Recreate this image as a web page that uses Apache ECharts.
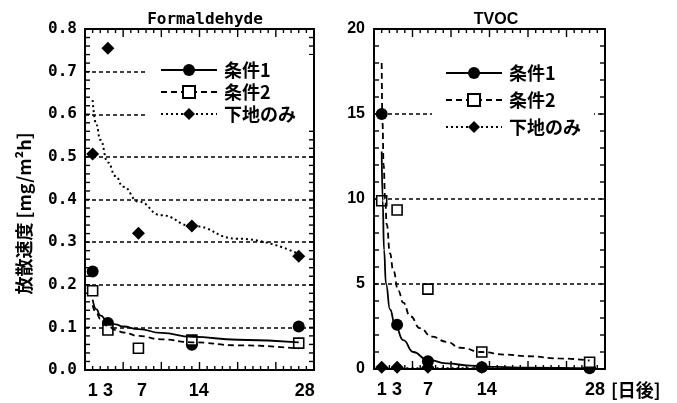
<!DOCTYPE html>
<html><head><meta charset="utf-8">
<script src="https://cdn.jsdelivr.net/npm/echarts@6/dist/echarts.min.js"></script>
<style>html,body{margin:0;padding:0;background:#fff}#c{width:677px;height:403px}</style>
</head><body><div id="c"></div>
<script>
// ---- data ----
const days = [1, 3, 7, 14, 28];
const xTickLabels = [1, 3, 7, 14, 28];
const seriesNames = ['条件1', '条件2', '下地のみ'];

const hchoCond1 = [0.231, 0.11, null, 0.059, 0.102];
const hchoCond2 = [0.186, 0.094, 0.051, 0.070, 0.063];
const hchoBase  = [0.507, 0.755, 0.321, 0.338, 0.267];

const tvocCond1 = [15.0, 2.6, 0.45, 0.1, 0.05];
const tvocCond2 = [9.9, 9.35, 4.7, 1.0, 0.4];
const tvocBase  = [0.1, 0.1, 0.1, 0.1, 0.1];

// fitted curves
const hchoFitDays  = [1, 1.5, 2, 3, 4, 5, 7, 10, 14, 20, 28];
const hchoFit1     = [0.165, 0.142, 0.128, 0.114, 0.107, 0.102, 0.096, 0.087, 0.078, 0.071, 0.065];
const hchoFit2     = [0.152, 0.133, 0.12, 0.103, 0.094, 0.088, 0.08, 0.072, 0.065, 0.058, 0.05];
const hchoFitBase  = [0.633, 0.575, 0.54, 0.487, 0.455, 0.43, 0.395, 0.363, 0.338, 0.308, 0.272];

const tvocFit1Days = [1, 1.13, 1.3, 1.56, 2.08, 2.73, 3.8, 5.1, 6.84, 9.44, 12.5, 16, 20, 28];
const tvocFit1     = [12.8, 9.9, 7.0, 5.0, 3.5, 2.6, 1.7, 1.0, 0.57, 0.33, 0.2, 0.12, 0.08, 0.04];
const tvocFit2Days = [1, 1.1, 1.25, 1.45, 1.65, 2.08, 2.5, 3.16, 3.8, 4.7, 6.0, 7.5, 9.44, 11.2, 14, 17, 20, 24, 28];
const tvocFit2     = [18, 14.5, 12, 10, 8.5, 6.8, 5.8, 4.6, 3.9, 3.1, 2.4, 1.9, 1.6, 1.25, 1.0, 0.85, 0.75, 0.62, 0.5];
const tvocFitBaseDays = [1, 28];
const tvocFitBase     = [0.05, 0.02];

// ---- helpers ----
const zip = (xs, ys) => xs.map((x, i) => [x, ys[i]]);
const BLACK = '#000';
const CJK = 'Noto Sans CJK JP';

function xLabelRich(pads) {
  const rich = {};
  xTickLabels.forEach(v => { rich['p' + v] = { padding: [0, 0, 0, pads[v] || 0] }; });
  return rich;
}

function axisBase(g, min, max, interval, pos) {
  return {
    gridIndex: g, type: 'value', min: min, max: max, interval: interval, position: pos,
    axisLine: { show: true, onZero: false, lineStyle: { color: BLACK, width: 2 } },
    axisTick: { show: false },
    minorTick: { show: false },
    splitLine: { show: false },
    axisLabel: { show: false }
  };
}

function xAxes(g, pads, name) {
  const bottom = axisBase(g, 0, 30, 5, 'bottom');
  bottom.axisLabel = {
    show: true, customValues: xTickLabels, margin: 12, color: BLACK,
    fontFamily: 'Liberation Sans', fontWeight: 'bold', fontSize: 18,
    formatter: v => '{p' + v + '|' + v + '}', rich: xLabelRich(pads)
  };
  if (name) {
    bottom.name = name;
    bottom.nameLocation = 'end';
    bottom.nameGap = 2;
    bottom.nameTextStyle = { fontFamily: CJK, fontWeight: 'bold', fontSize: 18, color: BLACK,
      verticalAlign: 'top', padding: [12, 0, 0, 0] };
  }
  const top = axisBase(g, 0, 30, 5, 'top');
  return [bottom, top];
}

function yAxes(g, max, interval, fmt, font, margin, withName) {
  const left = axisBase(g, 0, max, interval, 'left');
  left.axisLabel = { show: true, formatter: fmt, color: BLACK, fontFamily: font, fontWeight: 'bold', fontSize: 16, margin: margin };
  left.splitLine = { show: true, lineStyle: { color: BLACK, width: 1.5, type: [4, 3] } };
  if (withName) {
    left.name = '放散速度 [mg/m²h]';
    left.nameLocation = 'middle';
    left.nameGap = 52;
    left.nameTextStyle = { fontFamily: CJK, fontWeight: 'bold', fontSize: 18, color: BLACK, padding: [0, 28, 0, 0] };
  }
  const right = axisBase(g, 0, max, interval, 'right');
  return [left, right];
}

const styles = {
  '条件1':   { symbol: 'circle', item: { color: BLACK, opacity: 1 }, line: { color: BLACK, width: 1.8, type: 'solid' } },
  '条件2':   { symbol: 'rect', item: { color: '#fff', borderColor: BLACK, borderWidth: 1.6, opacity: 1 }, line: { color: BLACK, width: 1.8, type: [6, 4] } },
  '下地のみ': { symbol: 'diamond', item: { color: BLACK, opacity: 1 }, line: { color: BLACK, width: 2, type: [2, 3] } }
};
const symSize = { '条件1': 12, '条件2': 10, '下地のみ': 13 };

function curve(name, g, xs, ys) {
  const s = styles[name];
  return {
    name: name, type: 'line', xAxisIndex: g * 2, yAxisIndex: g * 2,
    data: zip(xs, ys), symbol: s.symbol, showSymbol: false, symbolSize: 12,
    smooth: 0.5, smoothMonotone: 'x',
    itemStyle: s.item, lineStyle: s.line
  };
}
function points(name, g, ys) {
  const s = styles[name];
  return {
    name: name + '_pts', type: 'scatter', xAxisIndex: g * 2, yAxisIndex: g * 2,
    data: zip(days, ys).filter(p => p[1] !== null), symbol: s.symbol, symbolSize: symSize[name],
    itemStyle: s.item
  };
}

function legend(left, top, gap, padR) {
  return {
    orient: 'vertical', left: left, top: top, data: seriesNames,
    itemWidth: 56, itemHeight: 15, itemGap: gap,
    padding: [6, padR, 6, 13], backgroundColor: '#fff',
    selectedMode: false,
    textStyle: { fontFamily: CJK, fontWeight: 'bold', fontSize: 18, color: BLACK, padding: [0, 0, 0, 2] }
  };
}

const option = {
  animation: false,
  title: [
    { text: 'Formaldehyde', left: 200, top: 7, textAlign: 'center',
      textStyle: { fontFamily: 'DejaVu Sans Mono', fontWeight: 'bold', fontSize: 16, color: BLACK } },
    { text: 'TVOC', left: 491, top: 7, textAlign: 'center',
      textStyle: { fontFamily: 'Liberation Sans', fontWeight: 'bold', fontSize: 16, color: BLACK } }
  ],
  grid: [
    { left: 85, right: 363, top: 29, bottom: 33 },
    { left: 374, right: 72, top: 29, bottom: 34 }
  ],
  legend: [ legend(147, 55, 4, 17), legend(432, 58, 9, 13) ],
  xAxis: [].concat(
    xAxes(0, { 7: 7, 14: 14, 28: 12 }, null),
    xAxes(1, { 14: 10, 28: 11 }, '[日後]')
  ),
  yAxis: [].concat(
    yAxes(0, 0.8, 0.1, v => v.toFixed(1), 'DejaVu Sans Mono', 8, true),
    yAxes(1, 20, 5, v => String(v), 'Liberation Sans', 9, false)
  ),
  series: [
    curve('条件1', 0, hchoFitDays, hchoFit1),
    curve('条件2', 0, hchoFitDays, hchoFit2),
    curve('下地のみ', 0, hchoFitDays, hchoFitBase),
    points('条件1', 0, hchoCond1),
    points('下地のみ', 0, hchoBase),
    points('条件2', 0, hchoCond2),
    curve('条件1', 1, tvocFit1Days, tvocFit1),
    curve('条件2', 1, tvocFit2Days, tvocFit2),
    curve('下地のみ', 1, tvocFitBaseDays, tvocFitBase),
    points('条件1', 1, tvocCond1),
    points('下地のみ', 1, tvocBase),
    points('条件2', 1, tvocCond2)
  ]
};
const chart = echarts.init(document.getElementById('c'));
chart.setOption(option);

// inward tick marks on all four sides, positioned through the axes' own scales
function addTicks() {
  const els = [];
  const axesSpec = [
    { g: 0, yMax: 0.8, yStep: 0.02 },
    { g: 1, yMax: 20, yStep: 1 }
  ];
  axesSpec.forEach(a => {
    const xi = a.g * 2, yi = a.g * 2;
    const xL = chart.convertToPixel({ xAxisIndex: xi }, 0);
    const xR = chart.convertToPixel({ xAxisIndex: xi }, 30);
    const yB = chart.convertToPixel({ yAxisIndex: yi }, 0);
    const yT = chart.convertToPixel({ yAxisIndex: yi }, a.yMax);
    for (let d = 1; d < 30; d++) {
      const px = chart.convertToPixel({ xAxisIndex: xi }, d);
      const len = d % 5 === 0 ? 8 : 4;
      els.push({ type: 'line', shape: { x1: px, y1: yB, x2: px, y2: yB - len }, style: { stroke: BLACK, lineWidth: 1.4 }, silent: true, z: 1 });
      els.push({ type: 'line', shape: { x1: px, y1: yT, x2: px, y2: yT + len }, style: { stroke: BLACK, lineWidth: 1.4 }, silent: true, z: 1 });
    }
    const n = Math.round(a.yMax / a.yStep);
    for (let i = 1; i < n; i++) {
      const py = chart.convertToPixel({ yAxisIndex: yi }, i * a.yStep);
      const len = 5;
      els.push({ type: 'line', shape: { x1: xL, y1: py, x2: xL + len, y2: py }, style: { stroke: BLACK, lineWidth: 1.4 }, silent: true, z: 1 });
      els.push({ type: 'line', shape: { x1: xR, y1: py, x2: xR - len, y2: py }, style: { stroke: BLACK, lineWidth: 1.4 }, silent: true, z: 1 });
    }
  });
  chart.setOption({ graphic: { elements: els } });
}
addTicks();
</script></body></html>
